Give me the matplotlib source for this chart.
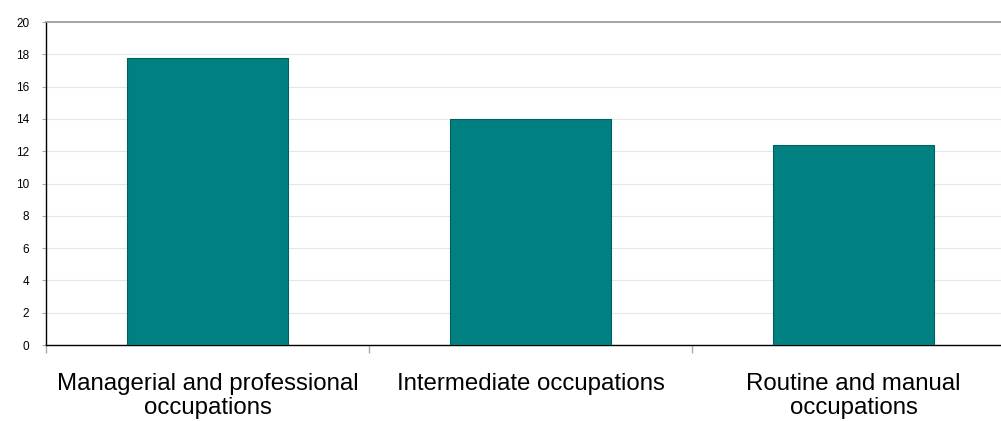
import numpy as np
import matplotlib.pyplot as plt

categories = ["Managerial and professional\noccupations",
              "Intermediate occupations",
              "Routine and manual\noccupations"]
values = [17.8, 14.0, 12.4]
yticks = [0, 2, 4, 6, 8, 10, 12, 14, 16, 18, 20]

plt.rcParams['font.family'] = ['Liberation Sans', 'DejaVu Sans']

fig = plt.figure(figsize=(10.01, 4.21), dpi=100)
# plot area runs past the right edge of the image, as in the reference
ax = fig.add_axes([0.046, 0.1805, 0.968, 0.767])

x = np.arange(len(categories))
ax.bar(x, values, width=0.5, color="#008080", edgecolor="#005f5f", linewidth=0.8, zorder=3)

ax.set_xlim(-0.5, len(categories) - 0.5)
ax.set_ylim(0, 20)
ax.set_yticks(yticks)
ax.set_yticklabels([str(t) for t in yticks], fontsize=8.5)
ax.yaxis.grid(True, color="#e6e6e6", linewidth=0.8, zorder=0)

ax.set_xticks(x)
ax.set_xticklabels(categories, fontsize=17.3, linespacing=1.15)
ax.tick_params(axis="x", which="major", length=0, pad=20)
ax.set_xticks(np.arange(-0.5, len(categories), 1.0), minor=True)
ax.tick_params(axis="x", which="minor", length=6, color="#aaaaaa", width=1)
ax.tick_params(axis="y", length=3, color="#aaaaaa", pad=9)

ax.spines["right"].set_visible(False)
ax.spines["top"].set_color("#999999")
ax.spines["top"].set_linewidth(1.2)
ax.spines["left"].set_color("black")
ax.spines["bottom"].set_color("black")
ax.spines["left"].set_linewidth(1.0)
ax.spines["bottom"].set_linewidth(1.0)

fig.savefig("out.png", dpi=100)
